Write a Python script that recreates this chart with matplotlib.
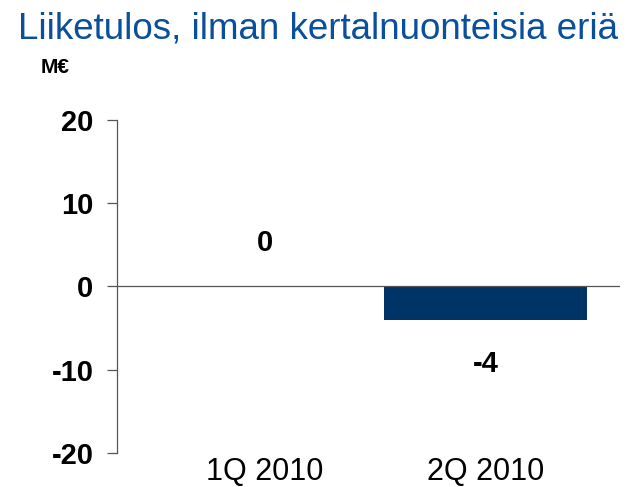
import numpy as np
import matplotlib.pyplot as plt

plt.rcParams['font.family'] = ['Liberation Sans', 'DejaVu Sans']

# data
quarters = ['1Q 2010', '2Q 2010']
ebit = [0, -4]
value_labels = ['0', '-4']
yticks = [-20, -10, 0, 10, 20]

fig = plt.figure(figsize=(6.29, 4.87), dpi=100)
ax = fig.add_axes([0.186, 0.070, 0.800, 0.684])

x = np.arange(len(quarters))
ax.bar(x, ebit, width=0.92, color='#003366', zorder=2)
ax.axhline(0, color='#555555', lw=0.9, zorder=3)

# value labels above / below bars
for xi, v, lab in zip(x, ebit, value_labels):
    yy = v + 5.2 if v >= 0 else v - 5.3
    ax.text(xi, yy, lab, ha='center', va='center', fontsize=21, fontweight='bold')

ax.set_xlim(-0.67, 1.61)
ax.set_ylim(-20, 20)
ax.set_yticks(yticks)
ax.set_yticklabels([str(t) for t in yticks], fontsize=21, fontweight='bold')
ax.set_xticks(x)
ax.set_xticklabels(quarters, fontsize=22)
ax.tick_params(axis='x', length=0, pad=3)
ax.tick_params(axis='y', length=7, width=0.9, color='#555555', pad=10)

for s in ['top', 'right', 'bottom']:
    ax.spines[s].set_visible(False)
ax.spines['left'].set_color('#555555')
ax.spines['left'].set_linewidth(0.9)

fig.text(0.029, 0.920, 'Liiketulos, ilman kertalnuonteisia eriä', fontsize=26.5,
         color='#0a4f9c', ha='left', va='baseline')
fig.text(0.064, 0.850, 'M€', fontsize=15, fontweight='bold', ha='left', va='baseline')

fig.savefig('out.png', dpi=100)
